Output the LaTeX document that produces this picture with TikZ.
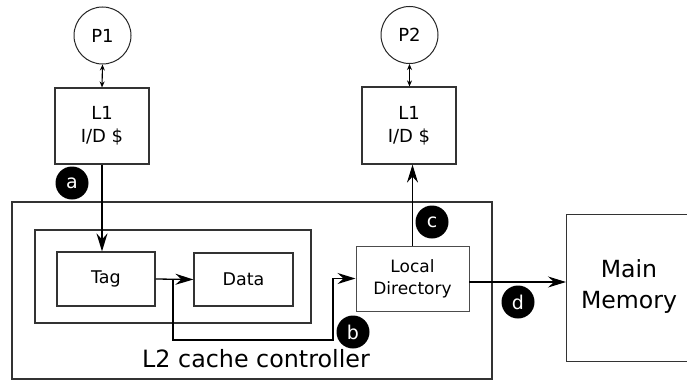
\documentclass[tikz,border=0pt]{standalone}
\usepackage{fontspec}
\setmainfont{DejaVu Sans}
\usetikzlibrary{arrows.meta}
\begin{document}
\begin{tikzpicture}[x=1pt,y=-1pt,
  box/.style={draw=black!80,line width=1.2pt,rectangle,inner sep=0pt,align=center},
  proc/.style={draw=black!85,line width=1pt,circle,inner sep=0pt,minimum size=57pt,font=\fontsize{18}{20}\selectfont},
  tagc/.style={fill=black,circle,inner sep=0pt,minimum size=33pt,text=white,font=\fontsize{19}{20}\selectfont},
  conn/.style={draw=black,line width=1.3pt,-{Stealth[length=18pt,width=11pt,inset=6pt]}},
  dbl/.style={draw=black,line width=1.1pt,{Stealth[length=6pt,width=5pt]}-{Stealth[length=6pt,width=5pt]}}]
\useasboundingbox (0,0) rectangle (687,380);
\begin{scope}
\clip (0,0) rectangle (687,380);
% processors
\node[proc] (P1) at (102.5,35.5) {P1};
\node[proc] (P2) at (409.5,35) {P2};
% L1 caches
\node[box,minimum width=94pt,minimum height=76pt,font=\fontsize{18}{23}\selectfont] (L1a) at (102,126) {L1\\I/D \$};
\node[box,minimum width=94pt,minimum height=77pt,font=\fontsize{18}{23}\selectfont] (L1b) at (409,125.5) {L1\\I/D \$};
% L2 controller
\node[box,minimum width=480pt,minimum height=177pt] (L2) at (252,290.5) {};
\node[box,minimum width=276pt,minimum height=93pt] (inner) at (173,276.5) {};
\node[box,minimum width=98pt,minimum height=54pt,font=\fontsize{17.5}{20}\selectfont] (Tag) at (106,279) {Tag};
\node[box,minimum width=99pt,minimum height=53pt,font=\fontsize{17.5}{20}\selectfont] (Data) at (243.5,279.5) {Data};
\node[box,line width=1pt,draw=black!70,minimum width=113pt,minimum height=65pt,font=\fontsize{17}{22}\selectfont] (LD) at (412.5,278.5) {Local\\Directory};
\node[font=\fontsize{23.8}{28}\selectfont,anchor=base] (L2txt) at (256,367) {L2 cache controller};
% main memory
\node[box,minimum width=140pt,minimum height=147pt,anchor=north west] (MM) at (566,214) {};
\node[font=\fontsize{23.6}{31}\selectfont,align=center] (MMtxt) at (629,286) {Main\\Memory};
% connections
\draw[dbl] (P1.south) -- (L1a.north);
\draw[dbl] (P2.south) -- (P2.south |- L1b.north);
\draw[conn] (L1a.south) -- (L1a.south |- Tag.north);
\draw[conn] (Tag.east) -- (Data.west);
\coordinate (bs) at (173,279);
\coordinate (b1) at (173,340);
\coordinate (b2) at (333,340);
\coordinate (b3) at (333,278.5);
\draw[conn] (bs) -- (b1) -- (b2) -- (b3) -- (LD.west);
\draw[conn] (LD.north) -- (LD.north |- L1b.south);
\coordinate (dst) at (469,282);
\draw[conn] (dst) -- (dst -| MM.west);
% labels
\node[tagc] (la) at (72,183) {a};
\node[tagc] (lb) at (353,332) {b};
\node[tagc] (lc) at (432,222) {c};
\node[tagc] (ld) at (518,302) {d};
\end{scope}
\end{tikzpicture}
\end{document}
